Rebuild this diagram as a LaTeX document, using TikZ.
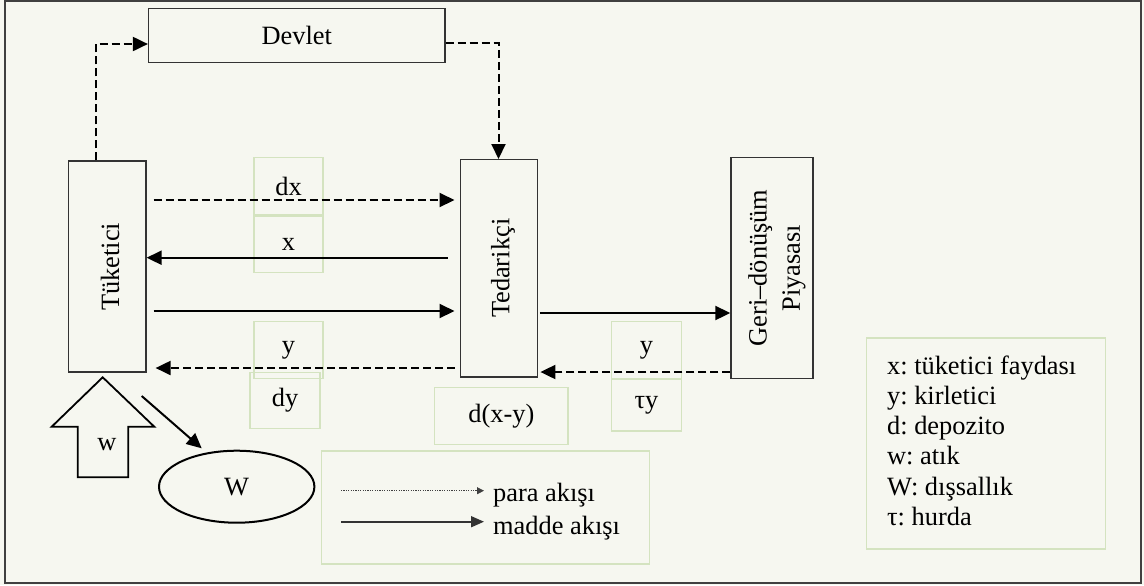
\documentclass[tikz,border=0pt]{standalone}
\usepackage{fontspec}
\setmainfont{Liberation Serif}
\usetikzlibrary{arrows.meta,shapes.geometric,calc}
\definecolor{bg}{RGB}{246,247,240}
\definecolor{gbord}{RGB}{212,227,192}
\definecolor{frm}{RGB}{64,64,64}
\frenchspacing
\begin{document}
\begin{tikzpicture}[x=0.5pt,y=-0.5pt,
  every node/.style={font=\fontsize{13.2}{15.15}\selectfont},
  blk/.style={draw=black!80, line width=0.7pt, inner sep=0pt},
  gbox/.style={draw=gbord, line width=0.6pt, inner sep=0pt},
  flow/.style={line width=1pt, -{Triangle[length=7.5pt,width=7pt]}},
  dflow/.style={flow, dash pattern=on 4pt off 2pt},
]
\fill[bg] (0,0) rectangle (1144,585);
\useasboundingbox (0,0) rectangle (1144,585);
\draw[frm, line width=1pt] (5,1) rectangle (1141,583);

% label boxes (green)
\node[gbox, minimum width=34.5pt, minimum height=28.7pt] (ldx) at (288.5,186.3) {dx};
\node[gbox, minimum width=34.5pt, minimum height=28.3pt] (lx) at (288.5,244.3) {x};
\node[gbox, minimum width=34.5pt, minimum height=28.3pt] (ly) at (288.5,350) {y};
\node[gbox, minimum width=35pt, minimum height=28.2pt] (ldy) at (285,400.5) {dy};
\node[gbox, minimum width=66.7pt, minimum height=28.3pt] (ldxy) at (501.3,416) {d(x-y)};
\node[gbox, minimum width=34.8pt, minimum height=28.7pt] (lry) at (646.5,350.3) {y};
\node[gbox, minimum width=34.8pt, minimum height=26pt] (lty) at (646.5,405) {τy};

% main blocks
\node[blk, minimum width=148.2pt, minimum height=27pt] (dev) at (296.8,35.3) {Devlet};
\node[blk, minimum width=38.6pt, minimum height=105.5pt] (tuk) at (107.3,266.5) {};
\node[rotate=90] (tukt) at (110,266.7) {Tüketici};
\node[blk, minimum width=38.5pt, minimum height=108.6pt] (ted) at (499.2,268.3) {};
\node[rotate=90] (tedt) at (503,268.3) {Tedarikçi};
\node[blk, minimum width=41pt, minimum height=110.5pt] (geri) at (772,268.2) {};
\node[rotate=90, align=center, font=\fontsize{13.2}{16.6}\selectfont] (gerit) at (777,268) {Geri–dönüşüm\\Piyasası};

% flows
\draw[dflow] (tuk.north -| 96,0) |- (dev.west |- 0,44);
\draw[dflow] (dev.east |- 0,42.7) -| (ted.north -| 498.5,0);
\draw[dflow] ($(tuk.east |- 0,200)+(7,0)$) -- ($(ted.west |- 0,200)+(-5.5,0)$);
\draw[flow] ($(ted.west |- 0,257.7)+(-12.5,0)$) -- (tuk.east |- 0,257.7);
\draw[flow] ($(tuk.east |- 0,311)+(7,0)$) -- ($(ted.west |- 0,311)+(-5.5,0)$);
\draw[dflow] ($(ted.west |- 0,368)+(-5.5,0)$) -- ($(tuk.east |- 0,368)+(9,0)$);
\draw[flow] ($(ted.east |- 0,313)+(1.5,0)$) -- (geri.west |- 0,313);
\draw[dflow] (geri.west |- 0,372) -- ($(ted.east |- 0,372)+(2,0)$);

% waste arrow and externality
\draw[line width=0.9pt, fill=bg] (102.7,377.3) -- (154.3,426.7) -- (128.3,426.7) -- (128.3,477.3)
  -- (77.7,477.3) -- (77.7,426.7) -- (51.7,426.7) -- cycle;
\node (wl) at (107,445) {w};
\node[ellipse, draw, line width=1pt, minimum width=77.7pt, minimum height=36pt, inner sep=0pt] (W) at (236.7,486.7) {W};
\coordinate (ws) at (141.7,396);
\coordinate (we) at (201.7,448.3);
\draw[flow] (ws) -- (we);

% legend: flows
\node[gbox, minimum width=163.8pt, minimum height=56.5pt] (leg1) at (485.5,507.5) {};
\node[anchor=base west, inner sep=0pt] (para) at (492.7,501.7) {para akışı};
\node[anchor=base west, inner sep=0pt] (madde) at (492.7,534.3) {madde akışı};
\coordinate (p1) at (341,490.7);
\coordinate (p2) at (484,490.7);
\coordinate (m1) at (341,521.7);
\coordinate (m2) at (484,521.7);
\draw[black!75, line width=0.4pt, dash pattern=on 0.6pt off 0.6pt, -{Triangle[length=3.5pt,width=3.5pt]}] (p1) -- (p2);
\draw[black!80, line width=0.8pt, -{Triangle[length=6.5pt,width=5.5pt]}] (m1) -- (m2);

% legend: symbols
\node[gbox, minimum width=119.5pt, minimum height=105.5pt] (leg2) at (986.2,443.5) {};
\node[anchor=north west, inner sep=0pt, align=left] (leg2t) at (886.7,355) {x: tüketici faydası\\y: kirletici\\d: depozito\\w: atık\\W: dışsallık\\τ: hurda};
\end{tikzpicture}
\end{document}
